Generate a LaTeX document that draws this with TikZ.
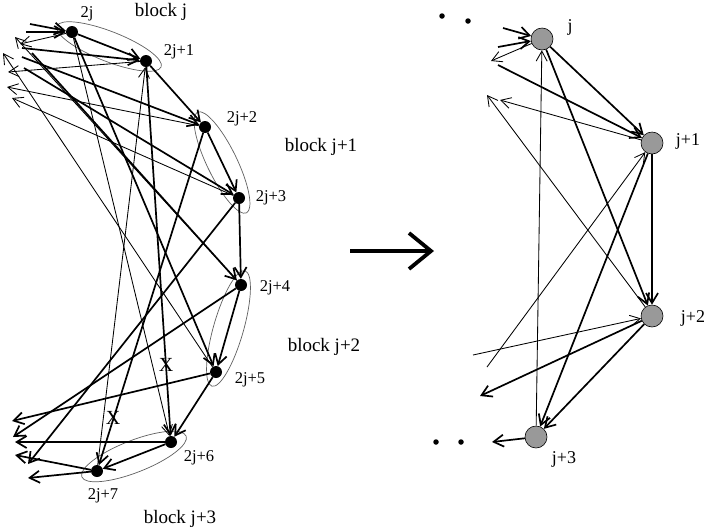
\documentclass[tikz,border=0pt]{standalone}
\usepackage{fontspec}
\setmainfont{Liberation Serif}
\usetikzlibrary{arrows.meta}
\definecolor{graynode}{RGB}{153,153,153}
\definecolor{blkgray}{RGB}{95,95,95}
\begin{document}
\begin{tikzpicture}[x=1pt,y=-1pt,
  bn/.style={circle, fill=black, inner sep=0pt, minimum size=12pt},
  gn/.style={circle, draw=black, line width=0.6pt, fill=graynode, inner sep=0pt, minimum size=22pt},
  tk/.style={line width=1.7pt, -{Straight Barb[length=10pt,width=12pt]}},
  tn/.style={line width=0.85pt, -{Straight Barb[length=10pt,width=11pt]}},
  blk/.style={draw=blkgray, line width=0.7pt},
  lab/.style={font=\fontsize{16.5}{17}\selectfont, inner sep=0pt},
  rlab/.style={font=\fontsize{18}{19}\selectfont, inner sep=0pt},
  blab/.style={font=\fontsize{19}{20}\selectfont, inner sep=0pt},
  xlab/.style={font=\fontsize{20}{21}\selectfont, inner sep=0pt},
  dotn/.style={circle, fill=black, inner sep=0pt, minimum size=5.5pt}]
\useasboundingbox (0,0) rectangle (708,531);

% ---------- left graph: nodes ----------
\node[bn] (n0) at (72,32) {};
\node[bn] (n1) at (146,61) {};
\node[bn] (n2) at (205,127) {};
\node[bn] (n3) at (239,198) {};
\node[bn] (n4) at (241,285) {};
\node[bn] (n5) at (216,372) {};
\node[bn] (n6) at (171,442) {};
\node[bn] (n7) at (97,471) {};

% block ellipses
\coordinate (b0) at (109,46.5);
\coordinate (b1) at (222,162.5);
\coordinate (b2) at (228.5,328.5);
\coordinate (b3) at (134,456.5);
\draw[blk, rotate around={-21.4:(b0)}] (b0) ellipse (56 and 15);
\draw[blk, rotate around={-64.1:(b1)}] (b1) ellipse (56 and 15);
\draw[blk, rotate around={74:(b2)}] (b2) ellipse (60 and 15);
\draw[blk, rotate around={21.4:(b3)}] (b3) ellipse (56 and 16);

% labels
\node[lab] (l0) at (87,14) {2j};
\node[lab] (l1) at (179,52) {2j+1};
\node[lab] (l2) at (242,119) {2j+2};
\node[lab] (l3) at (271,198) {2j+3};
\node[lab] (l4) at (275,288) {2j+4};
\node[lab] (l5) at (250,380) {2j+5};
\node[lab] (l6) at (199,458) {2j+6};
\node[lab] (l7) at (103,496) {2j+7};
\node[blab] (bl0) at (161,12) {block j};
\node[blab] (bl1) at (321,147) {block j+1};
\node[blab] (bl2) at (324,347) {block j+2};
\node[blab] (bl3) at (180,519) {block j+3};
\node[xlab] (x1) at (166,365) {X};
\node[xlab] (x2) at (113,418) {X};

% free ends (left)
\coordinate (f1) at (30,24);
\coordinate (f2) at (26,32);
\coordinate (f3) at (20,44);
\coordinate (f4) at (22,48);
\coordinate (f5) at (8,72);
\coordinate (f6) at (22,57);
\coordinate (f7) at (7,87);
\coordinate (f8) at (24,68);
\coordinate (f9) at (12,98);
\coordinate (f10) at (32,53);
\coordinate (f11) at (15,37);
\coordinate (f12) at (3,53);
\coordinate (f13) at (28,464);
\coordinate (f14) at (13,437);
\coordinate (f15) at (12,421);
\coordinate (f16) at (15,442);
\coordinate (f17) at (15,455);
\coordinate (f18) at (28,478);

% thick edges
\draw[tk] (f1) -- (n0);
\draw[tk] (f2) -- (n0);
\draw[tk] (n0) -- (n1);
\draw[tk] (f4) -- (n1);
\draw[tk] (f6) -- (n2);
\draw[tk] (f8) -- (n3);
\draw[tk] (f10) -- (n4);
\draw[tk] (n1) -- (n2);
\draw[tk] (n2) -- (n3);
\draw[tk] (n3) -- (n4);
\draw[tk] (n4) -- (n5);
\draw[tk] (n5) -- (n6);
\draw[tk] (n6) -- (n7);
\draw[tk] (n0) -- (n5);
\draw[tk] (n1) -- (n6);
\draw[tk] (n2) -- (n7);
\draw[tk] (n3) -- (f13);
\draw[tk] (n4) -- (f14);
\draw[tk] (n5) -- (f15);
\draw[tk] (n6) -- (f16);
\draw[tk] (n7) -- (f17);
\draw[tk] (n7) -- (f18);

% thin edges
\draw[tn] (n0) -- (f3);
\draw[tn] (n1) -- (f5);
\draw[tn] (n2) -- (f7);
\draw[tn] (n3) -- (f9);
\draw[tn] (n4) -- (f11);
\draw[tn] (n5) -- (f12);
\draw[tn] (n0) -- (n6);
\draw[tn] (n7) -- (n1);

% ---------- big arrow ----------
\coordinate (ba) at (350,251);
\coordinate (bb) at (434,251);
\draw[line width=3.8pt, -{Straight Barb[length=22pt,width=36pt]}] (ba) -- (bb);

% ---------- right graph ----------
\node[gn] (r0) at (542,39) {};
\node[gn] (r1) at (652,143) {};
\node[gn] (r2) at (652,316) {};
\node[gn] (r3) at (536,437) {};
\node[rlab] (rl0) at (570,27) {j};
\node[rlab] (rl1) at (688,141) {j+1};
\node[rlab] (rl2) at (693,318) {j+2};
\node[rlab] (rl3) at (564,459) {j+3};

\node[dotn] (d1) at (442,16) {};
\node[dotn] (d2) at (468,21) {};
\node[dotn] (d3) at (436,442) {};
\node[dotn] (d4) at (461,442) {};

\coordinate (g1) at (503,28);
\coordinate (g2) at (498,47);
\coordinate (g3) at (491,61);
\coordinate (g4) at (498,65);
\coordinate (g5) at (500,100);
\coordinate (g6) at (487,95);
\coordinate (g7) at (487,367);
\coordinate (g8) at (473,355);
\coordinate (g9) at (480,396);
\coordinate (g10) at (492,442);

\draw[tk] (g1) -- (r0);
\draw[tk] (g2) -- (r0);
\draw[tn] (r0) -- (g3);
\draw[tk] (g4) -- (r1);
\draw[tk] (r0) -- (r1);
\draw[tk] (r0) -- (r2);
\draw[tn] (r1) -- (g5);
\draw[tn] (r2) -- (g6);
\draw[tk] (r1) -- (r2);
\draw[tk] (r1) -- (r3);
\draw[tn] (g7) -- (r1);
\draw[tn] (g8) -- (r2);
\draw[tk] (r2) -- (g9);
\draw[tk] (r2) -- (r3);
\draw[tk] (r3) -- (g10);
\draw[tn] (r3) -- (r0);
\end{tikzpicture}
\end{document}
